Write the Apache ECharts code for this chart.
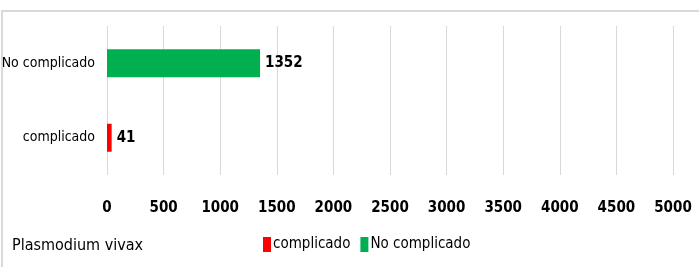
<!DOCTYPE html>
<html>
<head>
<meta charset="utf-8">
<script src="https://cdn.jsdelivr.net/npm/echarts@6/dist/echarts.min.js"></script>
<style>
  html, body { margin: 0; padding: 0; background: #fff; }
  #chart { width: 699px; height: 267px; }
</style>
</head>
<body>
<div id="chart"></div>
<script>
var categories = ['complicado', 'No complicado'];
var seriesNames = ['complicado', 'No complicado'];
var complicadoValues = [41, null];
var noComplicadoValues = [null, 1352];
var xTicks = [0, 500, 1000, 1500, 2000, 2500, 3000, 3500, 4000, 4500, 5000];

var font = "'Liberation Sans Narrow', 'DejaVu Sans Condensed', sans-serif";

var myChart = echarts.init(document.getElementById('chart'), null, { renderer: 'canvas' });

var labelStyle = {
  show: true,
  position: 'right',
  fontFamily: font,
  fontWeight: 'bold',
  fontSize: 15,
  color: '#000',
  distance: 5
};

option = {
  animation: false,
  title: {
    text: 'Plasmodium vivax',
    left: 7,
    top: 233,
    textStyle: { fontFamily: font, fontSize: 16, fontWeight: 'normal', color: '#000' }
  },
  legend: {
    data: seriesNames,
    left: 258,
    top: 232,
    itemWidth: 8,
    itemHeight: 15,
    itemGap: 10,
    icon: 'rect',
    textStyle: { fontFamily: font, fontSize: 15, color: '#000', padding: [0, 0, 0, -3] }
  },
  graphic: [{
    type: 'rect',
    shape: { x: 2, y: 11, width: 720, height: 300 },
    style: { fill: 'none', stroke: '#d9d9d9', lineWidth: 2 },
    silent: true
  }],
  grid: { left: 107, right: 26, top: 26, bottom: 92, containLabel: false, outerBoundsMode: 'none' },
  xAxis: {
    type: 'value',
    min: xTicks[0],
    max: xTicks[xTicks.length - 1],
    interval: 500,
    axisLine: { show: false },
    axisTick: { show: false },
    splitLine: { lineStyle: { color: '#d9d9d9', width: 1 } },
    axisLabel: {
      fontFamily: font, fontWeight: 'bold', fontSize: 15, color: '#000', margin: 26,
      formatter: function (v) { return String(v); }
    }
  },
  yAxis: {
    type: 'category',
    data: categories,
    axisLine: { show: false },
    axisTick: { show: false },
    axisLabel: { fontFamily: font, fontSize: 14, color: '#000', margin: 12 }
  },
  series: [
    {
      name: seriesNames[0], type: 'bar', stack: 'total', barWidth: 28,
      itemStyle: { color: '#ff0000' },
      label: labelStyle,
      data: complicadoValues
    },
    {
      name: seriesNames[1], type: 'bar', stack: 'total', barWidth: 28,
      itemStyle: { color: '#00b050' },
      label: labelStyle,
      data: noComplicadoValues
    }
  ]
};

myChart.setOption(option);
</script>
</body>
</html>
